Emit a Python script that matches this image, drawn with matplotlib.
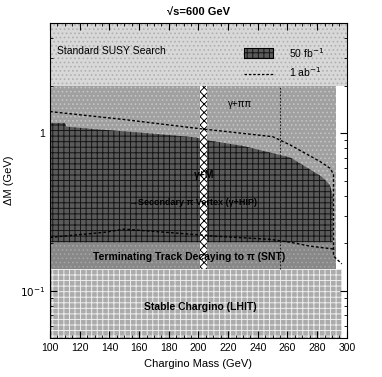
import numpy as np
import matplotlib
matplotlib.use("Agg")
import matplotlib.pyplot as plt
from matplotlib.ticker import FixedLocator, FuncFormatter, MultipleLocator

plt.rcParams['font.family'] = ['Liberation Sans', 'DejaVu Sans']
plt.rcParams['hatch.linewidth'] = 0.7

# Границы областей (ΔM в ГэВ)
x_min, x_max = 100, 300
y_min, y_max = 0.05, 5.0
susy_lo = 2.0          # выше - стандартный поиск SUSY
snt_lo = 0.137         # ниже - стабильное чарджино
hip_lo = 0.203         # нижняя граница тёмной области

# Область исключения 50 fb^-1 (верхняя граница)
excl_mass = [100, 110, 111, 130, 160, 198, 206, 230, 262, 283, 288.5, 290.5]
excl_dm = [1.16, 1.16, 1.10, 1.06, 1.01, 0.94, 0.90, 0.83, 0.70, 0.53, 0.47, 0.40]
excl_edge = 290.5

# 1 ab^-1, верхняя пунктирная линия
ab_mass = [100, 150, 200, 250, 262, 282, 288.5, 291, 291, 296.6]
ab_dm = [1.37, 1.22, 1.07, 0.95, 0.84, 0.66, 0.60, 0.55, 0.166, 0.148]

# 1 ab^-1, нижняя пунктирная линия
low_mass = [100, 137, 150, 188, 211, 248, 262, 275, 291]
low_dm = [0.218, 0.235, 0.246, 0.231, 0.222, 0.212, 0.203, 0.192, 0.184]

lep_band = (201, 205.5)   # клетчатая полоса
vline_mass = 255

fig = plt.figure(figsize=(3.82, 3.77), dpi=100)
ax = fig.add_axes([0.131, 0.103, 0.777, 0.836])
ax.set_yscale('log')
ax.set_xlim(x_min, x_max)
ax.set_ylim(y_min, y_max)

# Фоновые полосы
ax.fill_between([x_min, x_max], susy_lo, y_max, facecolor='#d8d8d8',
                edgecolor='#b0b0b0', hatch='....', linewidth=0, zorder=1)
ax.fill_between([x_min, 293], snt_lo, susy_lo, facecolor='#a0a0a0',
                edgecolor='#c4c4c4', hatch='....', linewidth=0, zorder=1)
ax.fill_between([x_min, 293], snt_lo, hip_lo, facecolor='#888888',
                edgecolor='#a4a4a4', hatch='....', linewidth=0, zorder=1)
ax.fill_between([x_min, 297], y_min, snt_lo, facecolor='#ababab',
                edgecolor='#eeeeee', hatch='+++', linewidth=0, zorder=1)

# Тёмная область (50 fb^-1)
xs = list(excl_mass) + [excl_edge]
ys = list(excl_dm) + [hip_lo]
ax.fill_between(xs, hip_lo, ys, facecolor='#5a5a5a', edgecolor='#151515',
                hatch='+++', linewidth=0, zorder=2)

# Клетчатая полоса и вертикальная линия
ax.fill_between(lep_band, snt_lo, susy_lo, facecolor='white',
                edgecolor='black', hatch='xxxx', linewidth=0, zorder=3)
ax.plot([vline_mass, vline_mass], [snt_lo, susy_lo], color='#222222',
        linestyle=(0, (1.5, 1.5)), linewidth=0.8, zorder=4)

# Пунктирные линии 1 ab^-1
ax.plot(ab_mass, ab_dm, color='black', linestyle=(0, (2, 1.5)),
        linewidth=1.0, zorder=4)
ax.plot(low_mass, low_dm, color='black', linestyle=(0, (2, 1.5)),
        linewidth=1.0, zorder=4)

# Легенда вручную
ax.fill_between([231, 250], 3.0, 3.47, facecolor='#5a5a5a',
                edgecolor='#151515', hatch='+++', linewidth=0, zorder=5)
ax.plot([231, 250, 250, 231, 231], [3.0, 3.0, 3.47, 3.47, 3.0],
        color='black', lw=0.8, zorder=6)
ax.plot([231, 250], [2.38, 2.38], color='black', linestyle=(0, (2, 1.5)),
        lw=0.9, zorder=6)
ax.text(261, 3.23, r'50 fb$^{-1}$', fontsize=7.5, va='center', zorder=6)
ax.text(261, 2.45, r'1 ab$^{-1}$', fontsize=7.5, va='center', zorder=6)

# Подписи областей
ax.text(105, 3.33, 'Standard SUSY Search', fontsize=7.5, va='center', zorder=6)
ax.text(228, 1.54, 'γ+ππ', fontsize=7, ha='center', va='center', zorder=6)
ax.text(204, 0.545, 'γ+M', fontsize=7.5, ha='center', va='center',
        fontweight='bold', zorder=6)
ax.text(196, 0.363, '→Secondary π Vertex (γ+HIP)', fontsize=6.5,
        ha='center', va='center', fontweight='bold', zorder=6)
ax.text(194, 0.164, 'Terminating Track Decaying to π (SNT)', fontsize=7.5,
        ha='center', va='center', fontweight='bold', zorder=6)
ax.text(201, 0.079, 'Stable Chargino (LHIT)', fontsize=7.5, ha='center',
        va='center', fontweight='bold', zorder=6)

# Оси
ax.xaxis.set_major_locator(MultipleLocator(20))
ax.xaxis.set_minor_locator(MultipleLocator(5))
ax.yaxis.set_major_locator(FixedLocator([0.1, 1.0]))
ax.yaxis.set_major_formatter(FuncFormatter(
    lambda v, p: '1' if abs(v - 1) < 1e-6 else r'$10^{-1}$'))
ax.tick_params(which='both', direction='in', top=True, right=True,
               labelsize=7.5, zorder=7)
ax.tick_params(which='major', length=5)
ax.tick_params(which='minor', length=2.5)
ax.set_xlabel('Chargino Mass (GeV)', fontsize=8)
ax.set_ylabel('ΔM (GeV)', fontsize=8)
ax.set_title('√s=600 GeV', fontsize=8, fontweight='bold', pad=6)

fig.savefig('out.png', dpi=100)
